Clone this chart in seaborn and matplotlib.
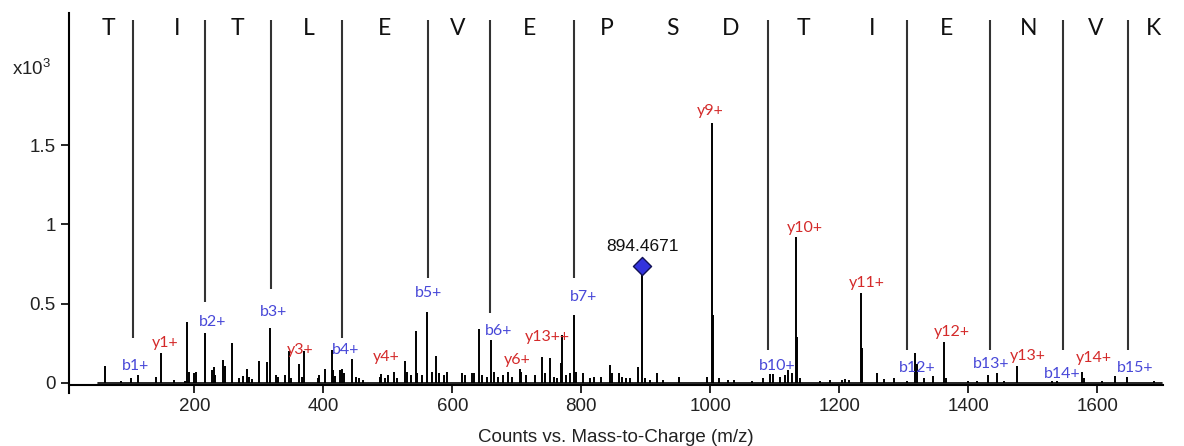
import matplotlib
matplotlib.use("Agg")
import matplotlib.pyplot as plt
import seaborn as sns
import pandas as pd

# Peptide sequence and the letters' m/z positions along the top
sequence = list("TITLEVEPSDTIENVK")
letter_mz = [67, 174, 267, 377, 495, 608, 719, 840, 942, 1032, 1144, 1251, 1367, 1493, 1597, 1687]

# Fragment separator lines (m/z, where the line stops above the peak, x10^3 counts)
sep_mz = [105, 217, 319, 429, 563, 659, 789, 1090, 1305, 1433, 1547, 1647]
sep_end = [0.285, 0.51, 0.59, 0.285, 0.66, 0.44, 0.66, 0.21, 0.21, 0.21, 0.21, 0.21]
sep_top = 2.29

# Stick spectrum (m/z, counts x10^3)
peak_mz = [61, 87, 102, 112, 140, 148, 168, 186, 189, 191, 200, 202, 216, 227, 230, 232,
           245, 247, 258, 270, 275, 282, 285, 290, 300, 313, 318, 326, 329, 340, 346, 350,
           362, 367, 370, 391, 393, 403, 413, 415, 418, 426, 429, 432, 444, 451, 456, 462,
           488, 490, 496, 501, 509, 514, 527, 530, 536, 543, 546, 553, 561, 569, 574, 579,
           587, 592, 615, 620, 630, 634, 642, 646, 654, 660, 664, 671, 679, 687, 692, 705,
           707, 714, 728, 739, 744, 752, 757, 762, 768, 770, 777, 782, 788, 791, 803, 813,
           820, 830, 845, 848, 859, 863, 870, 876, 888, 894.47, 898, 906, 918, 926, 952, 995,
           1003, 1004.5, 1014, 1027, 1037, 1065, 1082, 1092, 1098, 1108, 1116, 1121, 1126,
           1133.5, 1134.5, 1139, 1170, 1186, 1204, 1209, 1215, 1234, 1235, 1259, 1270, 1285,
           1305, 1318, 1321, 1332, 1345, 1363, 1366, 1400, 1413, 1431, 1444, 1456, 1476, 1530,
           1538, 1576, 1580, 1608, 1627, 1646, 1688]
peak_int = [0.11, 0.015, 0.03, 0.05, 0.04, 0.19, 0.02, 0.015, 0.385, 0.07, 0.065, 0.07, 0.315, 0.08, 0.10, 0.05,
            0.145, 0.11, 0.25, 0.03, 0.045, 0.09, 0.04, 0.025, 0.14, 0.135, 0.35, 0.05, 0.035, 0.05, 0.20, 0.03,
            0.12, 0.04, 0.20, 0.03, 0.05, 0.09, 0.21, 0.08, 0.045, 0.08, 0.09, 0.06, 0.15, 0.035, 0.03, 0.02,
            0.04, 0.055, 0.03, 0.05, 0.07, 0.03, 0.14, 0.07, 0.05, 0.33, 0.06, 0.05, 0.445, 0.07, 0.17, 0.06,
            0.05, 0.07, 0.065, 0.05, 0.065, 0.06, 0.34, 0.05, 0.04, 0.27, 0.07, 0.04, 0.05, 0.07, 0.04, 0.09,
            0.07, 0.05, 0.05, 0.165, 0.06, 0.16, 0.035, 0.03, 0.125, 0.30, 0.05, 0.06, 0.43, 0.07, 0.06, 0.03,
            0.04, 0.04, 0.115, 0.06, 0.06, 0.04, 0.03, 0.03, 0.10, 0.74, 0.03, 0.02, 0.065, 0.02, 0.035, 0.035,
            1.64, 0.43, 0.03, 0.02, 0.02, 0.015, 0.03, 0.055, 0.055, 0.04, 0.05, 0.08, 0.06,
            0.92, 0.29, 0.03, 0.015, 0.02, 0.02, 0.025, 0.02, 0.57, 0.22, 0.06, 0.025, 0.03,
            0.015, 0.19, 0.12, 0.03, 0.045, 0.26, 0.03, 0.01, 0.015, 0.05, 0.065, 0.015, 0.11, 0.015,
            0.01, 0.07, 0.03, 0.01, 0.045, 0.04, 0.015]
mz_range = [51, 1700]

# Precursor marker
precursor_mz = 894.4671
precursor_int = 0.74

# Ion annotations (label, m/z, height of label)
ion_labels = ["b1+", "y1+", "b2+", "b3+", "y3+", "b4+", "y4+", "b5+", "b6+", "y6+", "y13++", "b7+",
              "y9+", "b10+", "y10+", "y11+", "b12+", "y12+", "b13+", "y13+", "b14+", "y14+", "b15+"]
ion_mz = [108, 155, 228, 322, 364, 434, 498, 563, 671, 701, 747, 803,
          1000, 1104, 1147, 1243, 1321, 1375, 1436, 1493, 1546, 1594, 1659]
ion_y = [0.108, 0.25, 0.386, 0.45, 0.21, 0.21, 0.165, 0.57, 0.33, 0.146, 0.29, 0.545,
         1.715, 0.108, 0.98, 0.633, 0.095, 0.32, 0.12, 0.17, 0.057, 0.158, 0.095]

peaks = pd.DataFrame({"mz": peak_mz, "counts": peak_int})

sns.set_theme(style="ticks")
plt.rcParams["font.family"] = ["Liberation Sans", "DejaVu Sans"]
plt.rcParams["mathtext.default"] = "regular"

fig = plt.figure(figsize=(11.84, 4.46), dpi=100)
ax = fig.add_axes([0.0583, 0.1368, 0.9240, 0.8341])

# baseline + sticks
ax.plot(mz_range, [0, 0], color="black", lw=1.2)
ax.vlines(peaks["mz"], 0, peaks["counts"], color="black", lw=1.4)

# separator lines and sequence letters
ax.vlines(sep_mz, sep_end, sep_top, color="#333333", lw=1.5)
for letter, x in zip(sequence, letter_mz):
    ax.text(x, 2.235, letter, ha="center", va="center", fontsize=16.5,
            family=["Lato", "DejaVu Sans"], color="#111111")

# ion labels
for lab, x, y in zip(ion_labels, ion_mz, ion_y):
    col = "#4848d8" if lab.startswith("b") else "#d42a2a"
    ax.text(x, y, lab, ha="center", va="center", fontsize=11.5,
            family=["Lato", "DejaVu Sans"], color=col)

# precursor diamond
sns.scatterplot(x=[precursor_mz], y=[precursor_int], marker="D", s=85,
                color="#3333dd", edgecolor="#111155", linewidth=1, ax=ax, zorder=5)
ax.text(precursor_mz, precursor_int + 0.12, f"{precursor_mz:.4f}", ha="center",
        va="center", fontsize=12.5, color="#111111")

ax.set_xlim(5.7, 1702)
ax.set_ylim(-0.0126, 2.334)
ax.set_xticks([200, 400, 600, 800, 1000, 1200, 1400, 1600])
ax.set_yticks([0, 0.5, 1, 1.5])
ax.set_yticklabels(["0", "0.5", "1", "1.5"])
ax.tick_params(axis="both", labelsize=13.5, direction="out", length=6, width=1.2,
               color="black", labelcolor="#222222")
ax.set_xlabel("Counts vs. Mass-to-Charge (m/z)", fontsize=13.5, color="#222222", labelpad=10)
ax.set_ylabel("")
sns.despine(ax=ax)
ax.spines["left"].set_linewidth(1.5)
ax.spines["bottom"].set_linewidth(1.5)
ax.spines["left"].set_color("black")
ax.spines["bottom"].set_color("black")
ax.spines["left"].set_bounds(-0.06, 2.334)

fig.text(12 / 1184, 1 - 75 / 446, r"x10$^3$", fontsize=13.5, ha="left", va="baseline",
         color="#222222")

fig.savefig("out.png", dpi=100)
